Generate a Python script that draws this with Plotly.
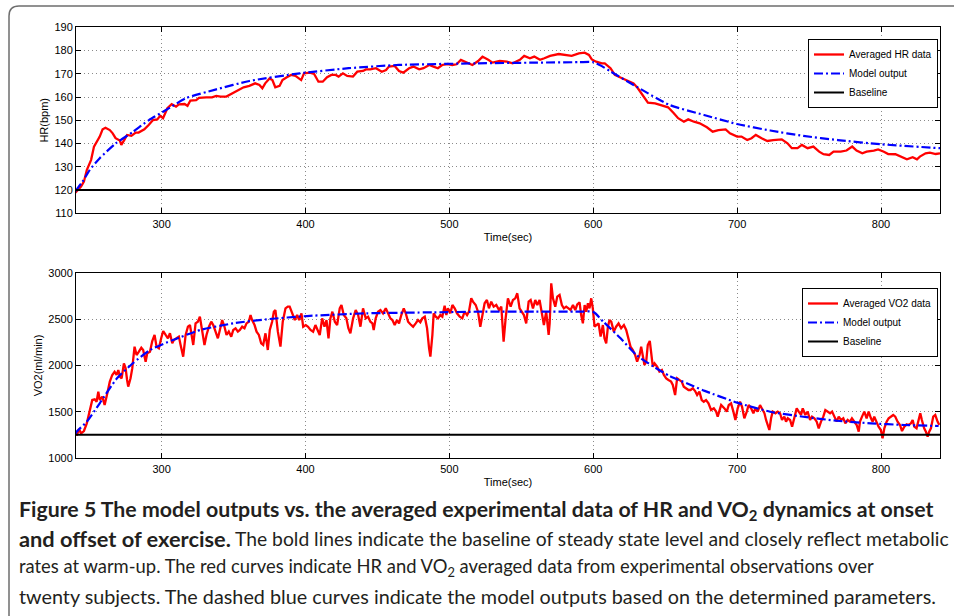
import plotly.graph_objects as go

# ---------------- data ----------------
hr_t = [240,244,246,248,251,253,257,259,261,264,266,268,271,272,274,276,279,282,284,288,
        291,294,297,299,301,302,304,307,310,312,316,318,320,324,326,331,335,338,341,345,
        347,350,354,357,361,365,368,370,372,375,377,379,382,384,387,390,393,397,399,403,
        406,409,412,415,418,421,423,426,429,433,436,440,442,445,449,451,453,456,458,462,
        465,468,472,475,479,482,486,489,492,495,499,502,505,508,511,516,520,523,527,530,
        535,540,544,549,552,556,559,563,566,570,576,580,585,590,594,597,599,602,606,608,
        612,615,620,624,628,631,635,638,643,647,652,656,659,663,666,670,674,679,683,687,
        692,695,700,703,707,710,713,717,721,725,731,735,738,742,745,749,753,757,760,764,
        767,772,776,780,783,787,790,795,798,802,805,810,814,818,822,825,827,831,834,838,841]
hr_data = [118.9,121.5,123.6,128.6,133.0,138.7,143.0,146.1,146.8,145.8,144.4,142.3,141.3,139.4,141.5,143.7,143.3,144.7,144.7,146.1,
           148.0,150.1,150.4,151.9,150.9,152.3,155.2,156.9,155.9,156.9,157.0,156.2,158.5,158.7,159.7,159.9,159.9,160.5,160.2,160.2,
           160.9,161.6,163.0,164.2,164.8,165.9,165.2,163.8,165.9,168.0,167.3,164.2,164.8,167.3,168.5,169.5,169.1,167.3,170.2,170.5,
           169.9,166.6,166.6,168.5,169.5,169.5,168.8,170.2,169.1,168.8,170.9,171.2,171.9,171.9,172.4,171.6,170.9,171.6,173.1,173.4,
           171.2,170.5,172.4,173.1,171.9,172.4,173.8,173.1,172.4,173.8,174.2,173.8,174.1,176.0,175.2,173.8,175.5,177.4,176.0,174.8,
           175.5,175.2,174.5,176.0,177.7,176.7,177.4,176.0,176.7,177.7,178.5,178.1,177.7,178.8,179.1,178.1,176.2,175.2,174.5,174.5,
           172.4,169.5,168.1,166.9,165.9,163.8,160.2,157.6,157.3,156.6,155.6,153.0,150.9,149.4,150.4,149.4,148.7,147.0,145.1,145.8,
           146.1,144.4,143.0,143.0,141.5,142.3,143.7,142.3,141.1,141.5,141.8,140.1,138.0,138.0,139.4,138.0,138.7,136.5,135.4,135.1,
           136.5,136.5,137.0,138.7,137.0,135.8,136.5,137.0,137.5,136.5,135.5,135.4,134.4,133.2,134.1,133.2,134.4,135.8,136.1,135.5,135.8]

hr_model_t = [240,245,250,257,268,280,291,303,317,338,361,396,430,465,519,560,590,600,606,612,630,653,677,700,723,746,770,800,841]
hr_model = [119.5,123.6,128.6,133.7,140.0,145.0,150.0,154.4,159.5,163.3,166.9,170.2,172.4,173.8,174.5,174.8,175.0,175.0,173.3,171.0,
            164.5,156.6,152.3,148.4,145.6,143.3,141.5,139.7,138.0]
hr_baseline = 120

vo2_t = [241,242.6,244,246,248,249.5,251.8,253.5,254.8,256,257,258.8,260.4,262,264,265.7,267.3,268.7,269.9,271,
         272.2,273.8,275,276,276.8,278.4,279.6,281.2,282.6,284.2,285.9,287.2,288.9,290,291.9,293.5,295.1,296.5,298.1,299.7,
         301.1,302.8,304.4,305.8,307.4,308.5,310.4,312,313.2,315,316.7,318.3,319.7,320.6,322,323.6,325.2,326.6,328.2,329.8,
         331.2,332.9,334.5,335.9,337.5,339.1,340.5,342.1,343.7,345.1,346.7,348.4,349.8,351.4,353,354.4,356,357.6,359,360.6,
         361.8,362.9,364.6,366,367.6,369.2,370.6,372.2,373.8,375.2,376.8,378,379.1,380.8,382.6,384.2,386.1,387.7,
         389,391,392.6,394.2,395.6,397.2,398.4,400.2,401.8,403.5,405.3,406.9,408.3,409.9,411.6,413.2,414.6,416,417.3,418.7,
         420.4,422,423.8,425,426.6,428.4,429.8,431.2,433.1,434.9,436.6,438.2,440,441.9,443.5,445.1,446.5,447.4,448.8,450.4,
         452.1,453.9,455.8,457.4,459,460.4,462,463.6,465,466.6,468.3,469.7,471.3,472.9,474.8,476.6,478.2,479.8,481.2,482.9,
         484.5,485.9,486.8,488.2,489.1,490.5,492.1,493.7,495.1,496.7,497.9,499,500.7,502.1,503.7,505.3,507.2,509,510.6,512.3,
         513.6,515.2,516.4,518.3,519.9,521.5,522.9,524.5,526.1,527.5,529.1,530.8,532.6,534.5,536.1,537.7,539.1,540.7,
         542.6,544.2,545.8,547.2,548.8,550.4,551.8,553.4,555.1,556.5,558.1,559.7,561.1,562.7,564.3,565.7,567.3,569,569.7,570.8,
         572,573.6,575,576.6,578.2,579.6,581.2,582.8,584.2,585.9,587.5,588.9,590.5,591.6,592.8,594,595.1,596.3,597.4,598.6,
         599.7,600.9,602.1,603.7,605.1,606.7,607.8,609,610.2,611.3,612.5,614.3,615.9,617.6,619.4,621.3,622.9,624.5,625.9,627.5,
         629.1,630.5,632.2,633.3,634.5,635.6,636.8,637.9,639.3,640.3,641.4,642.6,644.4,646,647.7,649.1,650.7,652.3,654.1,655.3,
         656.9,658.3,659.9,661.5,662.9,664.6,666.2,667.6,669.2,670.8,672.2,673.8,675.4,676.8,678.4,680.1,681.9,683.8,685.4,686.5,
         687.7,688.9,691.2,692.8,694.2,695.8,697.4,698.8,700.4,702,703.4,705,706.7,708,709.7,711.3,712.7,714.3,715.9,717.3,
         719,720.1,721.3,722.4,723.6,724.7,726.6,728.2,729.8,731.2,732.8,734,735.2,736.8,738.2,739.8,741.4,742.8,744.4,745.6,
         747.4,749,750.7,752,753.7,755.3,756.7,758.3,759.9,761.3,763,764.6,766,767.6,769.2,770.6,772.2,773.8,775.2,776.8,
         778.4,779.8,781.5,783.1,784.5,785.4,786.8,788.4,790,791.4,793,794.2,795.3,797,798.3,799.9,801.1,802.3,803.9,805.3,
         806.9,808.5,809.9,811.5,813.2,814.6,816.2,817.8,819.2,820.8,822,823.1,824.7,826.1,827.3,828.4,830,831.2,832.4,833.5,
         834.7,836.3,837.7,839.3,840.5]
vo2_data = [1244,1316,1269,1294,1377,1467,1628,1635,1610,1718,1628,1664,1574,1682,1826,1898,1933,1898,1951,1880,
            1862,2023,1969,1844,1772,1862,1969,2203,2113,2149,2192,2167,2041,2131,2149,2264,2329,2203,2185,2293,
            2372,2329,2293,2347,2239,2275,2293,2311,2221,2095,2329,2418,2436,2365,2221,2454,2472,2526,2383,2221,
            2329,2418,2472,2436,2365,2293,2383,2490,2418,2329,2365,2311,2383,2401,2365,2383,2418,2401,2454,2472,
            2544,2490,2436,2365,2329,2239,2221,2347,2167,2383,2472,2580,2598,2365,2203,2472,2616,2634,
            2634,2544,2490,2544,2490,2562,2418,2436,2418,2383,2365,2436,2383,2329,2508,2418,2490,2293,2508,2580,
            2472,2436,2616,2652,2544,2508,2401,2347,2508,2598,2544,2418,2616,2508,2526,2472,2454,2383,2508,2580,
            2598,2562,2616,2562,2508,2490,2436,2490,2454,2544,2616,2562,2472,2444,2418,2454,2490,2465,2508,2526,
            2401,2185,2095,2329,2562,2526,2508,2544,2526,2645,2544,2616,2562,2652,2616,2562,2526,2508,2580,2544,
            2580,2724,2688,2652,2580,2418,2544,2670,2706,2616,2688,2634,2652,2598,2634,2257,2508,2724,
            2634,2706,2724,2778,2616,2580,2544,2454,2688,2706,2616,2706,2652,2706,2580,2436,2580,2329,2454,2885,
            2724,2634,2742,2760,2652,2616,2634,2616,2598,2652,2598,2659,2681,2544,2454,2652,2580,2670,2616,2724,
            2616,2418,2436,2454,2311,2436,2293,2239,2418,2490,2472,2365,2418,2454,2401,2436,2383,2293,2203,2167,
            2113,2041,2113,2203,2077,2005,2041,2221,2264,2131,1987,2023,1987,1934,1951,1898,1862,1844,1826,1790,
            1682,1862,1844,1826,1772,1754,1736,1736,1754,1725,1682,1718,1628,1610,1628,1592,1520,1538,1503,1449,
            1503,1574,1538,1503,1574,1592,1503,1413,1538,1610,1556,1431,1503,1574,1538,1485,1538,1503,1574,1538,
            1485,1413,1359,1305,1431,1503,1485,1503,1485,1413,1449,1395,1431,1413,1341,1431,1538,1503,1467,1538,
            1467,1503,1413,1449,1431,1395,1323,1395,1449,1520,1503,1485,1503,1449,1395,1449,1413,1431,1377,1413,
            1395,1431,1395,1359,1287,1395,1449,1503,1431,1503,1431,1395,1449,1377,1341,1305,1215,1323,1395,1431,
            1449,1467,1449,1395,1359,1294,1341,1366,1359,1377,1413,1341,1323,1395,1485,1413,1323,1287,1233,1287,
            1323,1449,1467,1395,1359]

vo2_model_t = [240,241,248,257,269,280,292,308,327,350,373,401,442,489,521,560,590,600,607,619,630,642,653,665,677,700,723,746,769,793,816,840]
vo2_model = [1260,1287,1395,1593,1862,2024,2167,2275,2383,2455,2498,2533,2562,2573,2580,2580,2580,2578,2472,2293,2113,1987,1887,
             1808,1729,1600,1502,1448,1405,1377,1359,1348]
vo2_baseline = 1255

x_ticks = [300, 400, 500, 600, 700, 800]
hr_ticks = [110, 120, 130, 140, 150, 160, 170, 180, 190]
vo2_ticks = [1000, 1500, 2000, 2500, 3000]

caption_bold_1 = "Figure 5 The model outputs vs. the averaged experimental data of HR and VO<sub>2</sub> dynamics at onset"
caption_bold_2 = "and offset of exercise."
caption_text_2 = "The bold lines indicate the baseline of steady state level and closely reflect metabolic"
caption_text_3 = "rates at warm-up. The red curves indicate HR and VO<sub>2</sub> averaged data from experimental observations over"
caption_text_4 = "twenty subjects. The dashed blue curves indicate the model outputs based on the determined parameters."

# ---------------- figure ----------------
W, H = 954, 616
RED = "#ff0000"
BLUE = "#0000ff"
DASHDOT = "9px,3px,2px,3px"

fig = go.Figure()

t_lo, t_hi = 240.5, 841

fig.add_trace(go.Scatter(x=hr_t, y=hr_data, mode="lines", name="Averaged HR data",
                         line=dict(color=RED, width=2.3), xaxis="x", yaxis="y", legend="legend"))
fig.add_trace(go.Scatter(x=hr_model_t, y=hr_model, mode="lines", name="Model output",
                         line=dict(color=BLUE, width=2.2, dash=DASHDOT, shape="spline", smoothing=0.6),
                         xaxis="x", yaxis="y", legend="legend"))
fig.add_trace(go.Scatter(x=[t_lo, t_hi], y=[hr_baseline, hr_baseline], mode="lines", name="Baseline",
                         line=dict(color="black", width=2), xaxis="x", yaxis="y", legend="legend"))

fig.add_trace(go.Scatter(x=vo2_t, y=vo2_data, mode="lines", name="Averaged VO2 data",
                         line=dict(color=RED, width=2.3), xaxis="x2", yaxis="y2", legend="legend2"))
fig.add_trace(go.Scatter(x=vo2_model_t, y=vo2_model, mode="lines", name="Model output",
                         line=dict(color=BLUE, width=2.2, dash=DASHDOT, shape="spline", smoothing=0.6),
                         xaxis="x2", yaxis="y2", legend="legend2"))
fig.add_trace(go.Scatter(x=[t_lo, t_hi], y=[vo2_baseline, vo2_baseline], mode="lines", name="Baseline",
                         line=dict(color="black", width=2), xaxis="x2", yaxis="y2", legend="legend2"))

axfont = dict(family="Liberation Sans, Arial, sans-serif", size=11, color="black")

def xax(anchor):
    return dict(domain=[76 / W, 940 / W], range=[t_lo, t_hi], anchor=anchor, automargin=False,
                tickvals=x_ticks, ticks="inside", ticklen=5, tickcolor="black",
                showline=True, linecolor="black", linewidth=1, mirror="ticks",
                showgrid=True, gridcolor="#8a8a8a", griddash="1px,3px", gridwidth=1,
                zeroline=False, tickfont=axfont,
                title=dict(text="Time(sec)", font=axfont, standoff=4))

def yax(anchor, dom, rng, ticks, title):
    return dict(domain=dom, range=rng, anchor=anchor, tickvals=ticks, automargin=False,
                ticks="inside", ticklen=5, tickcolor="black",
                showline=True, linecolor="black", linewidth=1, mirror="ticks",
                showgrid=True, gridcolor="#8a8a8a", griddash="1px,3px", gridwidth=1,
                zeroline=False, tickfont=axfont,
                title=dict(text=title, font=axfont, standoff=3))

legfont = dict(family="Liberation Sans, Arial, sans-serif", size=10, color="black")

fig.update_layout(
    width=W, height=H,
    margin=dict(l=0, r=0, t=0, b=0, autoexpand=False),
    paper_bgcolor="white", plot_bgcolor="white",
    xaxis=xax("y"),
    yaxis=yax("x", [1 - 213.3 / H, 1 - 27.3 / H], [110, 190], hr_ticks, "HR(bpm)"),
    xaxis2=xax("y2"),
    yaxis2=yax("x2", [1 - 458.3 / H, 1 - 272.7 / H], [1000, 3000], vo2_ticks, "VO2(ml/min)"),
    legend=dict(x=938 / W, xanchor="right", y=1 - 39 / H, yanchor="top",
                bordercolor="black", borderwidth=1, bgcolor="white", font=legfont,
                tracegroupgap=0, itemwidth=30),
    legend2=dict(x=938 / W, xanchor="right", y=1 - 288 / H, yanchor="top",
                 bordercolor="black", borderwidth=1, bgcolor="white", font=legfont,
                 tracegroupgap=0, itemwidth=30),
    showlegend=True,
)

# rounded figure border (top-left corner visible)
rx, ry = 10 / W, 10 / H
x0, ytop = 9 / W, 1 - 6 / H
fig.add_shape(type="path", xref="paper", yref="paper",
              path=f"M {x0},-0.1 L {x0},{ytop - ry} Q {x0},{ytop} {x0 + rx},{ytop} L 1.1,{ytop}",
              line=dict(color="#6e6e6e", width=1.5), layer="below")

CAP_FAMILY = "Lato, Roboto, sans-serif"
CAP_COLOR = "#231f20"
cap_items = [
    ("<b>" + caption_bold_1 + "</b>", 17, 510, 21.3),
    ("<b>" + caption_bold_2 + "</b>", 17, 538, 21.8),
    (caption_text_2, 233, 538, 19.3),
    (caption_text_3, 17, 567, 18.4),
    (caption_text_4, 17, 596, 19.8),
]
for txt, xx, yy, fs in cap_items:
    fig.add_annotation(text=txt, xref="paper", yref="paper", x=xx / W, y=1 - yy / H,
                       xanchor="left", yanchor="middle", showarrow=False, align="left",
                       font=dict(family=CAP_FAMILY, size=fs, color=CAP_COLOR))

fig.write_html("out.html",
               config={"displayModeBar": False},
               post_script="document.body.style.margin='0';document.body.style.overflow='hidden';")
